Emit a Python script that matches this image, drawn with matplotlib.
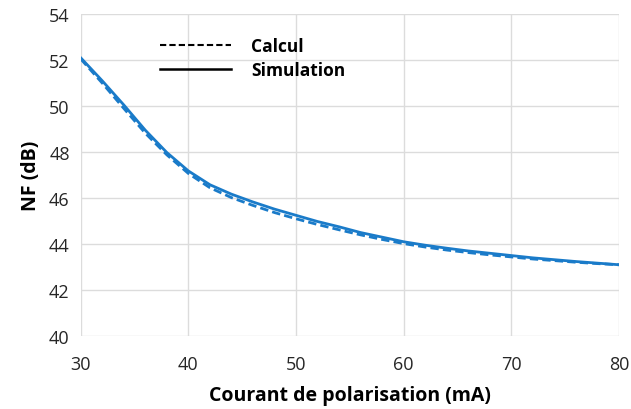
import matplotlib.pyplot as plt
from matplotlib.lines import Line2D

# %% Data
courant = [30, 32, 34, 36, 38, 40, 42, 44, 46, 48, 50, 52, 54, 56, 58,
           60, 62, 64, 66, 68, 70, 72, 74, 76, 78, 80]
nf_simulation = [52.1, 51.1, 50.05, 48.95, 47.98, 47.18, 46.58, 46.17, 45.83, 45.52,
                 45.25, 44.98, 44.75, 44.5, 44.3, 44.1, 43.95, 43.82, 43.7, 43.6,
                 43.5, 43.4, 43.32, 43.24, 43.17, 43.1]
nf_calcul = [52.05, 51.0, 49.9, 48.82, 47.88, 47.07, 46.45, 46.02, 45.68, 45.37,
             45.1, 44.85, 44.62, 44.4, 44.2, 44.02, 43.87, 43.74, 43.63, 43.53,
             43.44, 43.35, 43.28, 43.21, 43.15, 43.1]
x_ticks = [30, 40, 50, 60, 70, 80]
y_ticks = [40, 42, 44, 46, 48, 50, 52, 54]

# %% Plot
plt.rcParams['font.family'] = ['Open Sans', 'DejaVu Sans']
blue = '#1a7bc9'

fig = plt.figure(figsize=(6.31, 4.10), dpi=100)
ax = fig.add_axes([0.128, 0.178, 0.853, 0.785])

ax.plot(courant, nf_calcul, color=blue, lw=2, ls=(0, (3, 1.5)))
ax.plot(courant, nf_simulation, color=blue, lw=2)

ax.set_xlim(30, 80)
ax.set_ylim(40, 54)
ax.set_xticks(x_ticks)
ax.set_yticks(y_ticks)
ax.grid(True, color='#dcdcdc', lw=1)
ax.set_axisbelow(True)
for s in ax.spines.values():
    s.set_visible(False)
ax.tick_params(length=0, labelsize=13, colors='#262626', pad=8)
ax.tick_params(axis='x', pad=14)

ax.set_xlabel('Courant de polarisation (mA)', fontsize=14, fontweight='bold',
              labelpad=8)
ax.set_ylabel('NF (dB)', fontsize=14, fontweight='bold', labelpad=6)

# legend with black line samples, as in the original
handles = [Line2D([], [], color='black', lw=1.5, ls=(0, (3, 1.5))),
           Line2D([], [], color='black', lw=1.8)]
ax.legend(handles, ['Calcul', 'Simulation'], loc='upper left',
          bbox_to_anchor=(0.118, 0.977), frameon=False, handlelength=4.1,
          handletextpad=1.15, labelspacing=0.35,
          prop={'weight': 'bold', 'size': 12.5})

fig.savefig('out.png', dpi=100)
